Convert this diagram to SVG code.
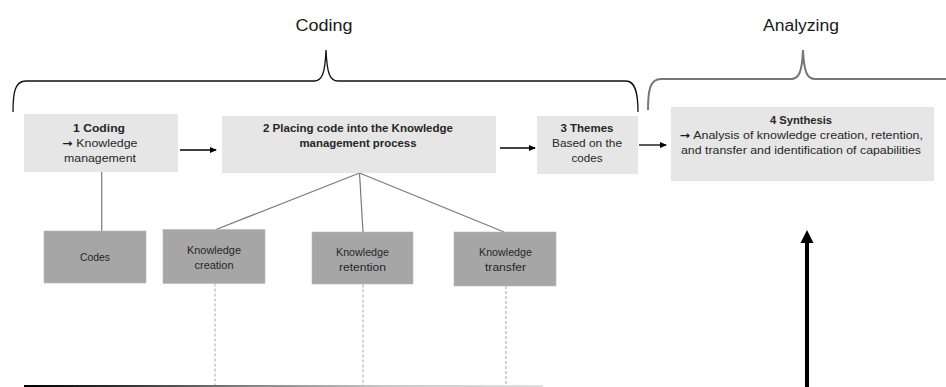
<svg xmlns="http://www.w3.org/2000/svg" width="946" height="387" viewBox="0 0 946 387">
<style>
.t{font-family:"Liberation Sans",Arial,sans-serif;fill:#262626;text-anchor:middle}
.b{font-weight:bold}
.s{font-size:10.5px}
.h{font-size:16px;fill:#1a1a1a}
.aw{font-family:"DejaVu Sans",sans-serif;font-weight:bold;fill:#1a1a1a}
.lt{fill:#e6e6e6}
.dk{fill:#a6a6a6;stroke:#b8b8b8;stroke-width:0.6}
.ln{stroke:#7a7a7a;stroke-width:1.2;fill:none}
.ds{stroke:#a8a8a8;stroke-width:1;stroke-dasharray:3 2;fill:none}
.ar{stroke:#000;stroke-width:1.3;fill:none;marker-end:url(#ah)}
</style>
<defs>
<marker id="ah" markerWidth="7" markerHeight="6" refX="6" refY="3" orient="auto" markerUnits="userSpaceOnUse">
<path d="M0,0 L7,3 L0,6 Z" fill="#000"/>
</marker>
<linearGradient id="bl" x1="24" y1="0" x2="543" y2="0" gradientUnits="userSpaceOnUse">
<stop offset="0" stop-color="#000"/>
<stop offset="0.2" stop-color="#333"/>
<stop offset="0.45" stop-color="#888"/>
<stop offset="0.7" stop-color="#c8c8c8"/>
<stop offset="1" stop-color="#e0e0e0"/>
</linearGradient>
</defs>

<g id="labels">
<text class="t h" x="324" y="31" textLength="57" lengthAdjust="spacingAndGlyphs">Coding</text>
<text class="t h" x="801" y="31" textLength="76" lengthAdjust="spacingAndGlyphs">Analyzing</text>
</g>

<g id="braces">
<path d="M13,112 C13,92 15,81 26,81 L314,81 C322,81 325,74 326,50 C327,74 330,81 338,81 L626,81 C635,81 638,92 638,112" fill="none" stroke="#111" stroke-width="1.3"/>
<path d="M648,110 C648,90 650,79 661,79 L791,79 C799,79 802,72 803,50 C804,72 807,79 815,79 L946,79" fill="none" stroke="#777" stroke-width="2"/>
</g>

<g id="connectors">
<line class="ar" x1="180" y1="150" x2="216" y2="150"/>
<line class="ar" x1="500" y1="148" x2="535" y2="148"/>
<line class="ar" x1="639" y1="145" x2="666" y2="145"/>
<line class="ln" x1="101.7" y1="172" x2="101.7" y2="231"/>
<line class="ln" x1="359.5" y1="173" x2="216" y2="229.5"/>
<line class="ln" x1="359.5" y1="173" x2="363" y2="232"/>
<line class="ln" x1="359.5" y1="173" x2="504" y2="232"/>
<line class="ds" x1="215" y1="283.5" x2="215" y2="387"/>
<line class="ds" x1="363" y1="284.5" x2="363" y2="387"/>
<line class="ds" x1="506" y1="286" x2="506" y2="387"/>
<rect x="24" y="385" width="519" height="2" fill="url(#bl)"/>
<line x1="807" y1="387" x2="807" y2="240" stroke="#000" stroke-width="4"/>
<path d="M800.5,243 L807,230 L813.5,243 Z" fill="#000"/>
</g>

<g id="n1">
<rect class="lt" x="24" y="114" width="154" height="58"/>
<text class="t b s" x="99" y="132" textLength="52" lengthAdjust="spacingAndGlyphs">1 Coding</text>
<text class="t s" x="100" y="147" textLength="75" lengthAdjust="spacingAndGlyphs"><tspan class="aw">→</tspan> Knowledge</text>
<text class="t s" x="100" y="162" textLength="72" lengthAdjust="spacingAndGlyphs">management</text>
</g>

<g id="n2">
<rect class="lt" x="222" y="116" width="274" height="57"/>
<text class="t b s" x="358" y="132" textLength="190" lengthAdjust="spacingAndGlyphs">2 Placing code into the Knowledge</text>
<text class="t b s" x="358" y="147" textLength="117" lengthAdjust="spacingAndGlyphs">management process</text>
</g>

<g id="n3">
<rect class="lt" x="537" y="116" width="101" height="58"/>
<text class="t b s" x="587" y="132" textLength="53" lengthAdjust="spacingAndGlyphs">3 Themes</text>
<text class="t s" x="587" y="147" textLength="70" lengthAdjust="spacingAndGlyphs">Based on the</text>
<text class="t s" x="587" y="162" textLength="31" lengthAdjust="spacingAndGlyphs">codes</text>
</g>

<g id="n4">
<rect class="lt" x="671" y="107" width="263" height="74"/>
<text class="t b s" x="801" y="124" textLength="62" lengthAdjust="spacingAndGlyphs">4 Synthesis</text>
<text class="t s" x="801.5" y="139" textLength="243" lengthAdjust="spacingAndGlyphs"><tspan class="aw">→</tspan> Analysis of knowledge creation, retention,</text>
<text class="t s" x="801" y="154" textLength="240" lengthAdjust="spacingAndGlyphs">and transfer and identification of capabilities</text>
</g>

<g id="codes">
<rect class="dk" x="44" y="231" width="102" height="52"/>
<text class="t s" x="95" y="261" textLength="30" lengthAdjust="spacingAndGlyphs">Codes</text>
</g>

<g id="creation">
<rect class="dk" x="163" y="229.5" width="102" height="54"/>
<text class="t s" x="214" y="254" textLength="54" lengthAdjust="spacingAndGlyphs">Knowledge</text>
<text class="t s" x="214" y="269" textLength="39" lengthAdjust="spacingAndGlyphs">creation</text>
</g>

<g id="retention">
<rect class="dk" x="312" y="232" width="101" height="52"/>
<text class="t s" x="362.5" y="256" textLength="53" lengthAdjust="spacingAndGlyphs">Knowledge</text>
<text class="t s" x="362.5" y="271" textLength="47" lengthAdjust="spacingAndGlyphs">retention</text>
</g>

<g id="transfer">
<rect class="dk" x="454" y="232" width="102" height="54"/>
<text class="t s" x="505.5" y="256" textLength="53" lengthAdjust="spacingAndGlyphs">Knowledge</text>
<text class="t s" x="505.5" y="271" textLength="41" lengthAdjust="spacingAndGlyphs">transfer</text>
</g>
</svg>
